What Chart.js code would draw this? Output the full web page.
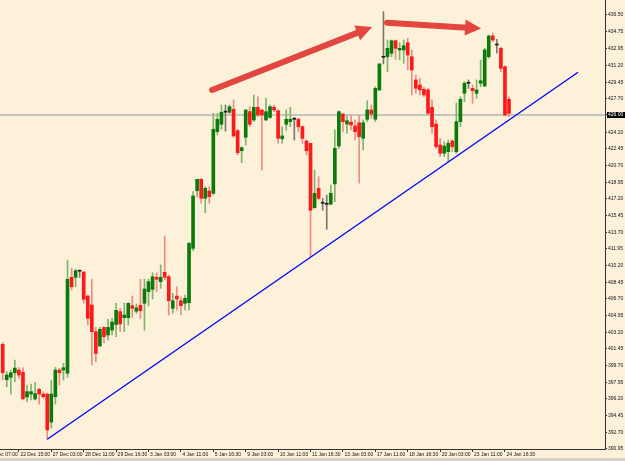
<!DOCTYPE html>
<html>
<head>
<meta charset="utf-8">
<script src="https://cdn.jsdelivr.net/npm/chart.js@4.4.0/dist/chart.umd.min.js"></script>
<style>
html, body { margin: 0; padding: 0; background: #fdf1da; }
#wrap { width: 625px; height: 461px; }
</style>
</head>
<body>
<div id="wrap"><canvas id="c" width="625" height="461"></canvas></div>
<script>
// candle data, one entry per bar (bar index = position in array)
const opens = [
  401.92, 398.21, 398.46, 398.94, 399.22, 398.98, 396.39, 396.70, 396.18, 397.20,
  396.70, 396.70, 393.76, 396.42, 399.22, 399.22, 398.88, 408.96, 408.96, 409.60,
  409.52, 406.99, 406.05, 403.25, 401.75, 403.70, 402.90, 403.42, 404.00, 405.35,
  404.72, 404.72, 405.98, 405.40, 406.02, 406.23, 407.45, 407.70, 408.96, 408.50,
  409.48, 409.02, 405.70, 406.99, 406.50, 406.23, 406.29, 412.00, 418.05, 419.25,
  417.25, 418.02, 417.78, 424.25, 425.02, 426.30, 426.28, 426.60, 424.35, 422.25,
  423.66, 426.35, 425.48, 426.81, 426.53, 425.48, 425.75, 426.81, 426.45, 423.51,
  425.02, 425.30, 425.55, 425.55, 424.77, 423.27, 423.03, 416.27, 418.30, 416.73,
  416.62, 416.65, 418.76, 422.74, 426.10, 425.05, 425.26, 424.85, 425.19, 423.55,
  425.55, 426.53, 425.55, 428.63, 432.06, 432.12, 432.48, 433.80, 432.83, 432.83,
  433.59, 432.12, 429.68, 429.15, 428.70, 428.63, 426.81, 425.05, 422.85, 421.98,
  422.15, 423.27, 422.15, 425.30, 428.28, 429.33, 428.80, 428.28, 429.33, 429.05,
  432.12, 434.30, 433.35, 433.00, 431.07, 427.65
];
const highs = [
  402.10, 399.05, 399.20, 400.27, 399.47, 399.47, 397.65, 397.75, 397.94, 397.30,
  396.95, 396.80, 398.17, 399.50, 399.40, 399.93, 410.77, 409.90, 409.80, 409.72,
  409.55, 407.10, 408.75, 403.70, 403.70, 403.75, 404.55, 404.65, 406.23, 405.70,
  406.23, 406.30, 406.99, 406.15, 408.75, 408.75, 408.75, 409.44, 409.44, 410.25,
  413.30, 409.20, 407.27, 407.97, 406.92, 407.10, 412.60, 417.95, 419.25, 419.30,
  418.47, 418.47, 426.18, 426.18, 427.05, 427.05, 427.05, 427.58, 424.50, 422.67,
  426.53, 426.87, 428.10, 427.92, 426.53, 427.75, 427.05, 427.05, 426.53, 424.77,
  426.53, 426.81, 425.75, 425.65, 424.85, 423.38, 423.03, 420.20, 419.52, 417.25,
  417.60, 418.65, 424.43, 426.45, 426.18, 425.90, 426.00, 425.48, 425.90, 425.48,
  427.50, 427.05, 428.97, 431.40, 436.85, 433.88, 433.88, 433.88, 433.60, 433.88,
  434.05, 432.83, 430.20, 429.85, 428.90, 428.80, 427.58, 425.48, 423.55, 423.20,
  423.38, 423.38, 427.23, 427.92, 429.50, 429.68, 429.15, 429.68, 431.78, 433.00,
  434.40, 434.58, 433.95, 433.17, 431.15, 427.92
];
const lows = [
  398.17, 397.47, 396.70, 397.99, 398.35, 396.08, 395.90, 396.08, 396.08, 395.65,
  396.25, 391.95, 393.10, 395.65, 397.65, 398.17, 398.46, 407.63, 407.97, 408.96,
  406.23, 403.95, 399.75, 400.10, 401.67, 402.08, 402.38, 402.90, 402.72, 403.25,
  403.25, 403.95, 404.76, 405.16, 404.65, 403.40, 405.95, 406.68, 407.45, 407.80,
  408.68, 405.00, 405.17, 405.50, 405.00, 405.50, 405.50, 411.75, 417.40, 416.73,
  415.74, 416.73, 417.60, 423.90, 424.50, 424.30, 426.18, 423.66, 421.80, 421.00,
  422.85, 424.78, 425.30, 425.82, 420.20, 425.40, 425.65, 426.35, 423.03, 423.03,
  424.40, 424.77, 423.38, 424.25, 423.03, 421.80, 411.12, 416.20, 417.08, 416.00,
  414.00, 416.55, 416.90, 422.50, 424.25, 424.10, 424.43, 423.38, 418.83, 422.33,
  425.30, 425.65, 425.30, 428.55, 431.36, 430.55, 432.12, 431.85, 431.78, 431.43,
  430.73, 428.10, 428.28, 428.10, 427.92, 426.00, 424.08, 422.50, 421.63, 421.63,
  421.10, 422.15, 421.98, 424.77, 427.40, 428.80, 427.23, 427.75, 428.97, 428.97,
  431.95, 433.70, 432.48, 430.55, 425.90, 425.82
];
const closes = [
  398.94, 398.70, 398.94, 399.43, 398.70, 396.21, 396.95, 396.95, 396.74, 396.70,
  396.42, 392.93, 396.70, 399.22, 398.94, 399.47, 408.75, 407.97, 409.65, 409.60,
  406.65, 404.65, 403.25, 400.97, 403.50, 402.72, 403.70, 404.26, 405.49, 404.06,
  405.00, 406.23, 405.70, 405.75, 405.45, 407.73, 408.50, 409.02, 408.75, 408.96,
  408.96, 406.50, 406.50, 406.68, 405.98, 406.75, 412.53, 417.50, 419.25, 417.25,
  418.30, 417.42, 424.50, 425.55, 426.28, 426.30, 426.87, 423.80, 422.04, 422.57,
  426.53, 425.02, 426.81, 426.00, 426.00, 426.35, 426.87, 426.53, 423.55, 423.80,
  425.55, 425.55, 425.55, 424.77, 423.55, 422.25, 416.00, 417.78, 417.25, 416.73,
  416.62, 417.78, 422.50, 426.35, 425.30, 425.40, 424.95, 424.25, 423.73, 425.19,
  426.53, 426.10, 428.80, 431.36, 432.06, 433.00, 433.80, 433.00, 433.00, 433.28,
  432.30, 430.73, 428.80, 428.63, 428.10, 426.18, 424.77, 422.67, 421.98, 422.74,
  423.03, 422.67, 425.30, 427.65, 429.33, 429.33, 428.55, 428.63, 429.60, 432.83,
  434.30, 433.88, 433.35, 430.90, 426.00, 426.18
];

// time axis labels, placed on bar indexes
const xTickBars = [-4, 4, 12, 20, 28, 36, 44, 52, 60, 68, 76, 84, 92, 100, 108, 116, 124];
const xTickLabels = [
  '21 Dec 07:00', '22 Dec 15:00', '27 Dec 03:00', '28 Dec 11:00', '29 Dec 16:30',
  '3 Jan 03:00', '4 Jan 11:00', '5 Jan 16:30', '9 Jan 03:00', '10 Jan 11:00',
  '11 Jan 16:30', '13 Jan 03:00', '17 Jan 11:00', '18 Jan 16:30', '20 Jan 03:00',
  '23 Jan 11:00', '24 Jan 16:30'
];
// price scale labels
const yTickValues = [
  390.95, 392.70, 394.45, 396.20, 397.95, 399.70, 401.45, 403.20, 404.95, 406.70,
  408.45, 410.20, 411.95, 413.70, 415.45, 417.20, 418.95, 420.70, 422.45, 424.20,
  426.00, 427.70, 429.45, 431.20, 432.95, 434.75, 436.50
];
const lastPrice = 426.00;

// hand drawn trend line and arrows (bar index / price)
const trendBars = [11, 142.05];
const trendPrices = [391.95, 430.48];
const arrowFromBar = [51.7, 94.9];
const arrowFromPrice = [428.63, 435.69];
const arrowToBar = [91.2, 118.1];
const arrowToPrice = [435.24, 435.08];

const FONT = 'Liberation Sans';
const GREEN = '#0b7a0b', RED = '#ff1a1a', DOJI = '#1a1a1a';
const GREEN_WICK = '#7fb46c', RED_WICK = '#f18c84', DOJI_WICK = '#7a7a70';

const dir = opens.map((o, i) => closes[i] > o ? 1 : (closes[i] < o ? -1 : 0));
const bodyColors = dir.map(d => d > 0 ? GREEN : (d < 0 ? RED : DOJI));
const wickColors = dir.map(d => d > 0 ? GREEN_WICK : (d < 0 ? RED_WICK : DOJI_WICK));

const bgPlugin = {
  id: 'bg',
  beforeDraw(chart) {
    const { ctx, width, height } = chart;
    ctx.save();
    ctx.fillStyle = '#fdf1da';
    ctx.fillRect(0, 0, width, height);
    ctx.fillStyle = '#d6d2ca';
    ctx.fillRect(0, 458, width, height - 458);
    ctx.restore();
  }
};

const arrowPlugin = {
  id: 'arrows',
  afterDatasetsDraw(chart) {
    const { ctx, scales: { x, y } } = chart;
    for (let k = 0; k < arrowFromBar.length; k++) {
      const x0 = x.getPixelForValue(arrowFromBar[k]);
      const y0 = y.getPixelForValue(arrowFromPrice[k]);
      const x1 = x.getPixelForValue(arrowToBar[k]);
      const y1 = y.getPixelForValue(arrowToPrice[k]);
      const dx = x1 - x0, dy = y1 - y0;
      const len = Math.hypot(dx, dy);
      const ux = dx / len, uy = dy / len;
      const head = 16, half = 8;
      const bx = x1 - ux * head, by = y1 - uy * head;
      ctx.save();
      ctx.strokeStyle = '#e2463e';
      ctx.fillStyle = '#e2463e';
      ctx.lineWidth = 6;
      ctx.lineCap = 'round';
      ctx.beginPath();
      ctx.moveTo(x0, y0);
      ctx.lineTo(bx + ux * 2, by + uy * 2);
      ctx.stroke();
      ctx.beginPath();
      ctx.moveTo(x1, y1);
      ctx.lineTo(bx - uy * half, by + ux * half);
      ctx.lineTo(bx + uy * half, by - ux * half);
      ctx.closePath();
      ctx.fill();
      ctx.restore();
    }
  }
};

new Chart(document.getElementById('c'), {
  type: 'bar',
  data: {
    datasets: [
      {
        label: 'body',
        data: opens.map((o, i) => ({ x: i, y: [o, closes[i]] })),
        backgroundColor: bodyColors,
        barThickness: 3,
        minBarLength: 1,
        grouped: false,
        order: 1
      },
      {
        label: 'wick',
        data: lows.map((l, i) => ({ x: i, y: [l, highs[i]] })),
        backgroundColor: wickColors,
        barThickness: 1,
        grouped: false,
        order: 2
      },
      {
        type: 'line',
        label: 'trend',
        data: trendBars.map((b, i) => ({ x: b, y: trendPrices[i] })),
        borderColor: '#0000ff',
        borderWidth: 1.3,
        pointRadius: 0,
        order: 0
      },
      {
        type: 'line',
        label: 'last',
        data: [{ x: -1, y: lastPrice }, { x: 150, y: lastPrice }],
        borderColor: '#8e9aa6',
        borderWidth: 1,
        pointRadius: 0,
        order: 3
      }
    ]
  },
  options: {
    responsive: false,
    animation: false,
    devicePixelRatio: 1,
    layout: { padding: 0, autoPadding: false },
    plugins: { legend: { display: false }, tooltip: { enabled: false } },
    scales: {
      x: {
        type: 'linear',
        offset: false,
        min: -0.667,
        max: 148.7,
        grid: { offset: false, drawOnChartArea: false, tickLength: 3, color: '#333' },
        border: { color: '#333' },
        ticks: {
          autoSkip: false,
          maxRotation: 0,
          minRotation: 0,
          align: 'start',
          labelOffset: 1.5,
          padding: 0,
          color: '#111',
          font: { family: FONT, size: 5 },
          callback: (v, idx) => xTickLabels[idx]
        },
        afterBuildTicks: s => { s.ticks = xTickBars.map(v => ({ value: v })); },
        afterFit: s => { s.height = 12; s.paddingLeft = 0; s.paddingRight = 0; }
      },
      y: {
        position: 'right',
        min: 390.93,
        max: 438.075,
        grid: { drawOnChartArea: false, tickLength: 2, color: '#333' },
        border: { color: '#333' },
        ticks: {
          padding: 1,
          color: c => (c.tick && c.tick.value === lastPrice) ? '#fff' : '#111',
          showLabelBackdrop: c => !!(c.tick && c.tick.value === lastPrice),
          backdropColor: '#000',
          backdropPadding: { top: 0, bottom: 0, left: 1, right: 3 },
          font: { family: FONT, size: 5 },
          callback: v => v.toFixed(2)
        },
        afterBuildTicks: s => { s.ticks = yTickValues.map(v => ({ value: v })); },
        afterFit: s => { s.width = 20; s.paddingTop = 0; s.paddingBottom = 0; }
      }
    }
  },
  plugins: [bgPlugin, arrowPlugin]
});
</script>
</body>
</html>
